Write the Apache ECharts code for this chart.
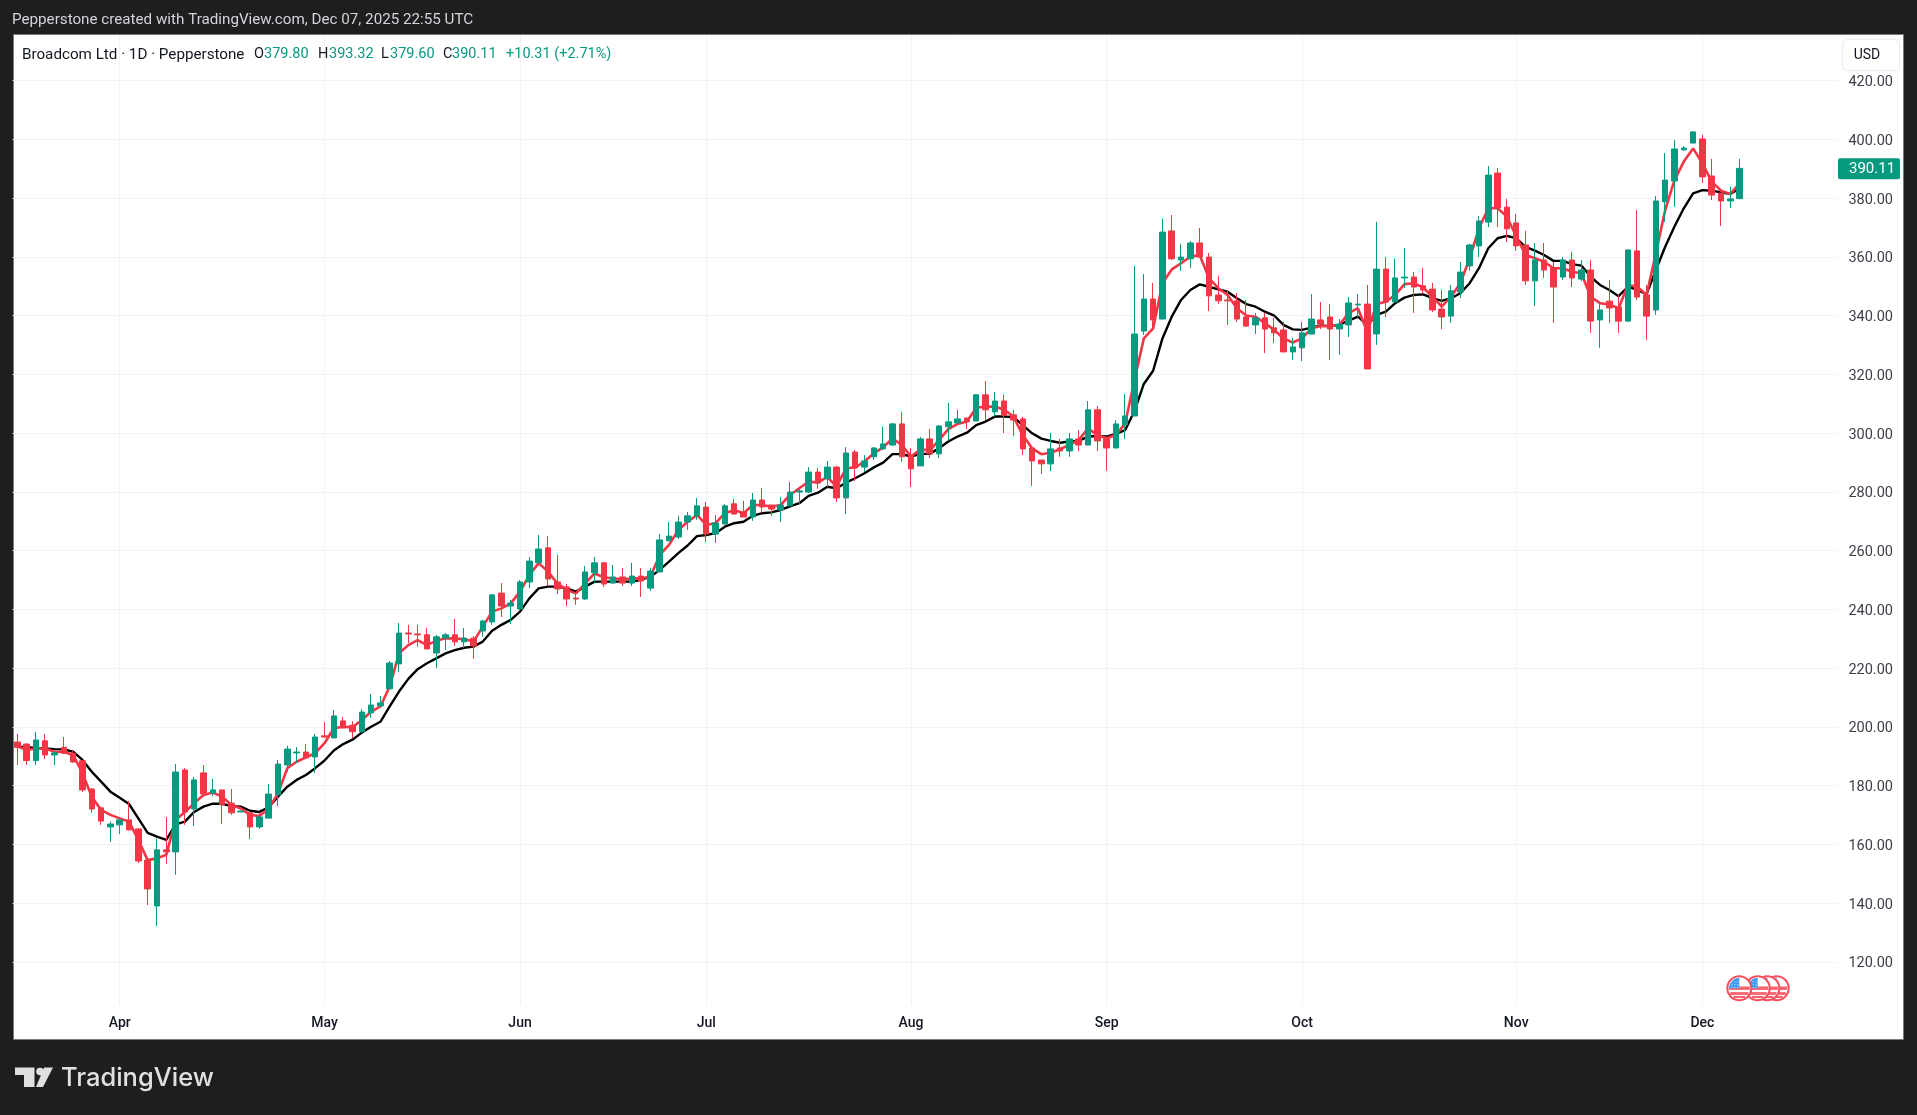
<!DOCTYPE html>
<html><head><meta charset="utf-8">
<style>html,body{margin:0;padding:0;background:#1e1e1e;overflow:hidden}#c{width:1917px;height:1115px}</style>
<script src="https://cdn.jsdelivr.net/npm/echarts@6/dist/echarts.min.js"></script>
</head><body><div id="c"></div>
<script>
const opens=[194.8,194.1,188.5,195.2,190.4,193.0,191.0,188.4,178.8,172.4,
165.9,166.6,168.3,165.2,154.6,139.0,158.1,157.4,185.3,172.0,
184.3,177.4,178.5,174.0,171.0,170.7,165.9,168.9,176.8,187.0,
191.1,191.4,189.7,196.9,196.2,202.0,200.5,198.3,204.7,207.1,
212.9,221.4,231.9,231.6,231.3,225.1,230.2,231.3,228.9,230.1,
232.6,235.7,245.5,241.1,240.1,249.3,255.8,260.9,249.3,247.6,
243.8,243.5,252.4,255.8,248.9,251.0,248.9,251.3,247.2,252.7,
263.3,264.6,269.7,271.8,274.8,265.6,269.0,275.9,273.1,271.4,
277.2,275.5,273.8,275.2,279.9,279.9,286.7,284.4,288.4,277.9,
293.5,288.4,291.9,294.6,295.9,303.1,292.5,288.8,298.0,292.9,
302.1,303.4,305.1,304.1,313.0,307.2,310.9,306.2,304.8,294.9,
290.8,289.5,294.9,293.9,298.0,295.9,307.9,298.3,294.9,302.8,
305.8,334.7,345.6,338.8,368.8,358.9,359.3,364.7,359.9,347.0,
345.3,345.0,339.5,336.8,339.2,335.8,335.1,327.6,329.0,333.7,
338.5,339.5,335.4,336.8,343.6,343.9,333.7,355.8,344.6,352.8,
353.1,350.1,349.0,342.2,339.8,348.0,356.9,363.7,371.8,388.5,
376.9,371.5,364.0,351.8,358.9,356.2,353.1,358.9,352.4,355.5,
338.5,344.9,342.9,338.1,362.0,347.0,341.9,378.7,385.8,396.4,
398.7,400.1,387.5,381.7,379.0,379.80];
const closes=[193.0,188.5,195.5,190.4,191.1,191.0,188.0,178.5,172.0,167.9,
166.9,168.3,164.9,154.3,144.8,158.1,157.4,184.6,171.0,181.9,
177.1,178.5,173.4,170.7,171.3,165.9,169.3,177.1,187.3,192.4,
191.4,189.4,196.5,196.5,203.7,199.6,198.3,205.0,207.4,208.1,
221.7,231.9,231.6,231.3,226.5,230.6,231.3,228.9,230.2,227.5,
236.0,244.9,241.1,242.1,249.3,256.4,260.5,250.3,246.9,243.5,
243.5,252.7,255.8,248.6,251.0,248.9,251.3,249.6,253.0,263.6,
264.9,269.7,271.8,275.2,265.6,269.4,275.2,272.4,271.4,277.2,
274.8,274.1,275.5,279.9,280.3,286.7,283.0,288.4,277.9,293.2,
288.1,290.5,294.9,296.3,303.1,291.9,287.8,298.0,292.9,302.4,
303.8,304.8,303.8,313.0,307.9,310.9,306.0,304.4,294.6,290.5,
289.5,294.6,293.9,298.0,295.9,307.9,297.3,294.9,303.1,305.8,
333.7,345.6,338.5,368.4,359.3,359.9,364.7,359.9,346.7,345.0,
345.0,338.8,336.4,339.2,335.4,334.1,327.6,329.3,334.1,338.8,
337.1,335.4,337.1,344.3,343.9,321.8,355.8,344.6,352.8,353.1,
349.7,348.7,341.9,339.5,348.4,354.8,364.0,372.2,387.8,376.6,
369.5,363.7,351.8,358.9,355.5,349.7,358.9,352.8,355.5,338.1,
341.9,342.6,338.1,362.3,346.3,339.8,379.0,386.1,396.7,397.0,
402.5,387.2,381.0,379.0,379.7,390.11];
const highs=[197.6,194.4,198.2,197.6,191.8,196.5,191.8,188.7,179.1,172.8,
167.8,169.2,174.7,165.5,155.2,162.0,169.3,187.3,186.0,182.9,
187.0,182.2,178.5,178.8,171.4,170.7,170.7,180.5,188.7,193.5,
193.1,194.1,197.6,201.6,205.7,203.3,201.9,206.0,211.2,210.5,
222.4,235.3,234.7,234.7,233.6,231.3,231.9,236.7,233.6,230.9,
236.4,245.2,248.9,243.2,250.0,257.8,265.3,264.9,258.5,248.6,
245.4,254.7,257.8,256.1,255.1,254.1,255.8,254.1,254.1,265.6,
269.7,271.8,273.1,277.9,276.5,272.1,275.9,277.6,276.9,279.6,
281.3,275.5,278.2,283.3,281.3,288.4,288.1,290.5,288.8,295.2,
294.2,292.5,295.2,302.1,303.4,307.2,294.9,298.7,301.4,302.7,
310.2,307.9,305.1,313.3,317.7,314.0,313.0,307.9,305.5,294.9,
290.8,300.0,298.0,300.0,301.0,310.9,309.2,298.7,304.4,313.3,
356.9,354.1,351.1,372.9,374.2,364.4,365.4,369.8,361.3,353.5,
348.7,347.7,345.3,340.9,340.9,339.2,337.8,332.4,337.8,347.3,
344.6,343.9,338.8,346.3,347.3,350.4,371.9,359.9,359.3,363.0,
354.8,356.2,351.1,348.7,350.4,358.2,364.4,373.9,390.9,390.2,
379.7,374.6,368.8,364.7,364.7,358.2,359.9,361.6,358.9,358.9,
344.6,352.1,347.3,362.6,375.9,350.4,380.7,395.3,399.8,397.7,
402.8,401.5,393.3,381.7,383.8,393.32];
const lows=[187.0,187.0,187.0,189.0,187.0,190.7,187.7,177.8,170.7,166.6,
160.8,163.5,164.6,153.6,139.3,132.2,153.3,149.6,166.6,166.2,
176.1,176.4,166.9,170.0,170.9,161.8,165.2,168.9,173.0,184.6,
187.7,189.0,184.3,196.2,196.2,199.6,196.1,198.0,203.0,206.7,
212.9,218.6,228.5,227.2,226.5,220.0,226.1,227.5,226.8,223.1,
230.6,234.7,237.4,235.0,239.8,247.2,255.8,247.9,245.2,241.1,
241.5,243.2,249.3,247.6,248.9,247.9,247.9,244.2,246.2,252.7,
263.3,263.9,267.0,270.4,262.9,262.6,269.0,272.4,271.4,270.1,
272.8,271.8,269.7,275.2,275.9,279.6,281.0,281.6,276.5,272.4,
283.7,286.7,290.8,294.2,295.6,290.2,281.6,288.8,291.5,291.5,
297.3,303.4,301.4,304.1,304.4,305.5,300.0,299.0,292.5,282.0,
286.1,287.1,291.9,291.9,293.9,295.9,293.9,287.1,294.9,298.0,
305.8,333.4,334.7,338.8,358.9,355.2,356.2,359.9,341.5,343.9,
336.8,337.8,336.1,333.7,327.2,330.7,327.6,324.9,324.5,333.7,
335.4,324.9,326.6,332.7,339.5,321.8,330.0,339.5,344.6,349.4,
340.9,347.3,341.2,335.4,337.5,346.0,355.2,359.9,370.1,370.1,
365.0,362.0,350.4,343.2,352.8,337.5,352.1,349.7,351.8,334.1,
329.0,337.5,334.1,337.8,345.3,331.7,340.2,371.8,377.0,396.0,
398.7,385.1,379.3,370.5,376.6,379.60];
const maFast=[193.4,192.1,192.6,192.6,191.5,191.4,190.4,184.2,176.2,171.7,
170.0,168.8,167.7,161.5,154.6,155.2,156.4,168.3,171.0,174.0,
176.8,177.6,176.2,173.4,172.2,170.0,169.6,172.2,177.3,185.9,
188.1,189.6,191.0,194.4,199.5,200.0,199.8,202.3,205.1,206.9,
213.7,225.0,227.8,229.5,227.8,229.3,230.1,230.1,229.8,229.0,
234.1,239.2,240.3,242.0,246.0,251.7,255.7,252.8,248.8,246.6,
245.4,248.8,252.2,250.9,250.5,250.2,250.5,250.5,251.1,258.5,
261.9,267.0,269.8,272.1,268.7,269.3,272.7,273.8,272.7,275.5,
275.5,274.9,275.5,278.9,281.2,283.5,283.1,285.1,281.7,288.0,
288.3,290.3,293.1,295.1,298.2,295.9,292.0,294.5,294.0,297.6,
301.3,303.1,303.9,308.6,309.0,309.0,307.9,305.6,299.3,294.8,
292.8,293.3,294.5,295.9,297.6,301.6,299.3,298.2,299.3,303.3,
318.0,332.2,335.6,351.0,355.7,357.8,360.0,360.6,352.7,349.3,
347.0,342.5,340.0,339.6,337.4,335.1,332.2,330.8,332.2,335.6,
336.4,336.4,336.8,340.8,342.5,334.5,343.9,344.7,347.0,350.7,
351.0,349.6,346.4,343.0,346.4,351.0,359.5,369.7,376.5,376.5,
373.7,366.9,360.6,359.5,358.3,356.1,356.1,354.9,354.4,346.4,
344.2,343.8,342.5,350.4,349.8,347.0,361.2,375.9,386.1,392.4,
396.9,391.8,385.6,382.5,381.4,385.0];
const maSlow=[193.2,193.0,192.8,192.6,192.4,192.3,191.5,188.7,184.7,181.3,
177.9,175.8,173.7,168.8,163.9,162.6,161.5,166.8,167.7,171.0,
172.8,173.8,173.8,173.0,172.8,171.4,171.0,172.6,176.2,179.6,
181.9,183.6,185.9,188.5,191.9,194.1,195.6,198.0,200.0,201.7,
206.9,212.0,216.3,219.6,221.6,223.3,225.0,226.1,226.9,227.3,
229.0,232.7,234.7,236.4,239.2,243.7,247.1,247.7,247.7,247.1,
246.0,247.7,249.4,249.4,249.4,249.4,249.4,250.0,251.1,253.4,
256.2,259.1,261.7,264.9,265.3,265.9,268.1,269.3,269.8,271.8,
272.7,273.0,273.8,275.0,276.1,278.6,279.7,281.7,281.2,283.1,
284.6,286.3,288.3,289.9,292.8,292.8,292.0,292.9,292.9,294.8,
297.1,298.8,300.1,302.7,303.9,305.6,305.6,305.4,302.7,299.9,
298.1,297.3,296.7,297.1,297.3,298.8,299.0,298.8,299.7,301.0,
307.5,316.7,321.2,332.2,339.6,345.3,348.7,350.6,349.8,348.9,
348.1,345.9,343.9,343.0,341.3,340.0,336.8,335.3,335.1,335.9,
336.6,336.4,336.8,338.3,339.6,336.8,340.2,341.3,344.2,346.1,
347.0,347.2,345.9,345.0,345.9,347.6,351.0,356.1,362.9,366.3,
367.1,366.3,363.4,362.1,360.6,358.6,358.6,357.5,357.0,353.2,
350.4,348.7,346.6,349.8,348.7,347.3,355.5,363.4,370.3,376.5,
381.6,382.7,382.5,381.9,381.4,383.3];
const monthLabels=['Apr','May','Jun','Jul','Aug','Sep','Oct','Nov','Dec'];
const monthStarts=[11,33,54,74,96,117,138,161,181];
const barSlots=196;
const categories=Array.from({length:barSlots},(_,i)=>{const k=monthStarts.indexOf(i);return k>=0?monthLabels[k]:'';});
const priceTicksStep=20;
const priceMin=100, priceMax=435.5;
const lastClose=closes[closes.length-1];

const UP='#089981',DOWN='#F23645',FONT='Roboto, sans-serif';
const isMonth=(i,v)=>v!=='';
const txt=(text,x,y,fill,size,extra)=>({type:'text',z:100,silent:true,style:Object.assign({text,x,y,fill,font:`${size}px ${FONT}`,textAlign:'left',textVerticalAlign:'middle'},extra||{})});
function flag(cx,cy,z){
  const r=12,R=10.5,els=[];
  els.push({type:'circle',z,shape:{cx,cy,r},style:{fill:'#fff',stroke:'#F5505E',lineWidth:2}});
  [[-1.8,3.4],[3.8,2.8],[7.6,2.2]].forEach(([dy,h])=>{
    const m=Math.abs(dy+h/2),w=Math.sqrt(Math.max(0,R*R-m*m));
    els.push({type:'rect',z:z+0.1,shape:{x:cx-w,y:cy+dy,width:w*2,height:h},style:{fill:'#F6646F'}});
  });
  els.push({type:'sector',z:z+0.2,shape:{cx,cy,r0:0,r:R,startAngle:Math.PI,endAngle:1.5*Math.PI,clockwise:true},style:{fill:'#3D9BF0'}});
  [-7.5,-4.5,-1.5].forEach(dx=>[-6.5,-3.5,-1].forEach(dy=>{
    els.push({type:'circle',z:z+0.3,shape:{cx:cx+dx,cy:cy+dy,r:0.6},style:{fill:'#dbeeff'}});
  }));
  return els;
}
const chart=echarts.init(document.getElementById('c'),null,{renderer:'canvas',width:1917,height:1115});
const baseElements=[
    {type:'rect',z:-10,shape:{x:13.5,y:34.5,width:1890,height:1005},style:{fill:'#ffffff',stroke:'#7a7a7a',lineWidth:1}},
    txt('Pepperstone created with TradingView.com, Dec 07, 2025 22:55 UTC',12,20.3,'#d1d4dc',15.2),
    txt('Broadcom Ltd · 1D · Pepperstone',22,54.7,'#131722',15.2),
    txt('O',254,54.7,'#131722',14.5),txt('379.80',264,54.7,UP,14.5),
    txt('H',318,54.7,'#131722',14.5),txt('393.32',329,54.7,UP,14.5),
    txt('L',381,54.7,'#131722',14.5),txt('379.60',390,54.7,UP,14.5),
    txt('C',443,54.7,'#131722',14.5),txt('390.11',452,54.7,UP,14.5),
    txt('+10.31 (+2.71%)',506,54.7,UP,14.5),
    {type:'rect',z:90,shape:{x:1842.5,y:39.5,width:57,height:31,r:5},style:{fill:'#fff',stroke:'#eef0f4',lineWidth:1.5}},
    txt('USD',1867,55,'#131722',14,{textAlign:'center'}),
    ...flag(1776.7,988.3,60),...flag(1767.3,988.3,61),...flag(1757.7,988.3,62),...flag(1739.3,988.3,63),
    {type:'polygon',z:100,shape:{points:[[15,1067.5],[34.5,1067.5],[34.5,1087],[24,1087],[24,1075],[15,1075]]},style:{fill:'#e0e0e0'}},
    {type:'circle',z:100,shape:{cx:40,cy:1071.5,r:3.8},style:{fill:'#e0e0e0'}},
    {type:'polygon',z:100,shape:{points:[[43,1087],[36,1087],[44,1067.5],[53,1067.5]]},style:{fill:'#e0e0e0'}},
    {type:'text',z:100,style:{text:'TradingView',x:61,y:1078,fill:'#e0e0e0',font:`500 25.5px Inter, ${FONT}`,textAlign:'left',textVerticalAlign:'middle'}}
];
const hiddenAxis={axisLine:{show:false},axisTick:{show:false},axisLabel:{show:false},splitLine:{show:false}};
const option={
  animation:false,
  backgroundColor:'#1e1e1e',
  grid:[
    {left:12.65,top:35,width:1824.76,height:985.5},
    {left:12.65,top:35,width:1824.76,height:970}
  ],
  xAxis:[
    Object.assign({type:'category',gridIndex:0,data:categories,boundaryGap:true},hiddenAxis),
    {type:'category',gridIndex:1,data:categories,boundaryGap:true,
     axisLine:{show:false},axisTick:{show:false},
     axisLabel:{interval:isMonth,color:'#131722',fontSize:14,fontWeight:500,fontFamily:FONT,margin:11},
     splitLine:{show:true,interval:isMonth,alignWithLabel:true,lineStyle:{color:'#f1f3f6',width:1}}}
  ],
  yAxis:[
    {type:'value',gridIndex:0,position:'right',min:priceMin,max:priceMax,interval:priceTicksStep,
     axisLine:{show:false},axisTick:{show:false},
     axisLabel:{showMinLabel:false,showMaxLabel:false,margin:11,align:'left',
       formatter:v=>`{p|${v.toFixed(2)}}`,
       rich:{p:{color:'#3c3f48',fontSize:14.5,fontFamily:FONT,padding:[4,0,0,0]}}},
     splitLine:{show:true,showMinLine:false,showMaxLine:false,lineStyle:{color:'#f1f3f6',width:1}}},
    Object.assign({type:'value',gridIndex:1,min:0,max:1},hiddenAxis)
  ],
  series:[
    {name:'MA slow',type:'line',data:maSlow,z:2,symbol:'none',silent:true,lineStyle:{color:'#000000',width:2.4}},
    {name:'MA fast',type:'line',data:maFast,z:3,symbol:'none',silent:true,lineStyle:{color:DOWN,width:2.6}},
    {name:'Broadcom',type:'candlestick',z:4,barWidth:6,
      data:opens.map((o,i)=>[o,closes[i],lows[i],highs[i]]),
      itemStyle:{color:UP,color0:DOWN,borderColor:UP,borderColor0:DOWN,borderWidth:1}}
  ],
  graphic:{elements:baseElements}
};
chart.setOption(option);
const py=chart.convertToPixel({yAxisIndex:0},lastClose);
chart.setOption({graphic:{elements:baseElements.concat([
  {type:'rect',z:95,shape:{x:1838,y:py-10,width:62,height:20.8,r:2},style:{fill:UP}},
  txt(lastClose.toFixed(2),1849,py+1,'#ffffff',15)
])}},{replaceMerge:['graphic']});
</script></body></html>
